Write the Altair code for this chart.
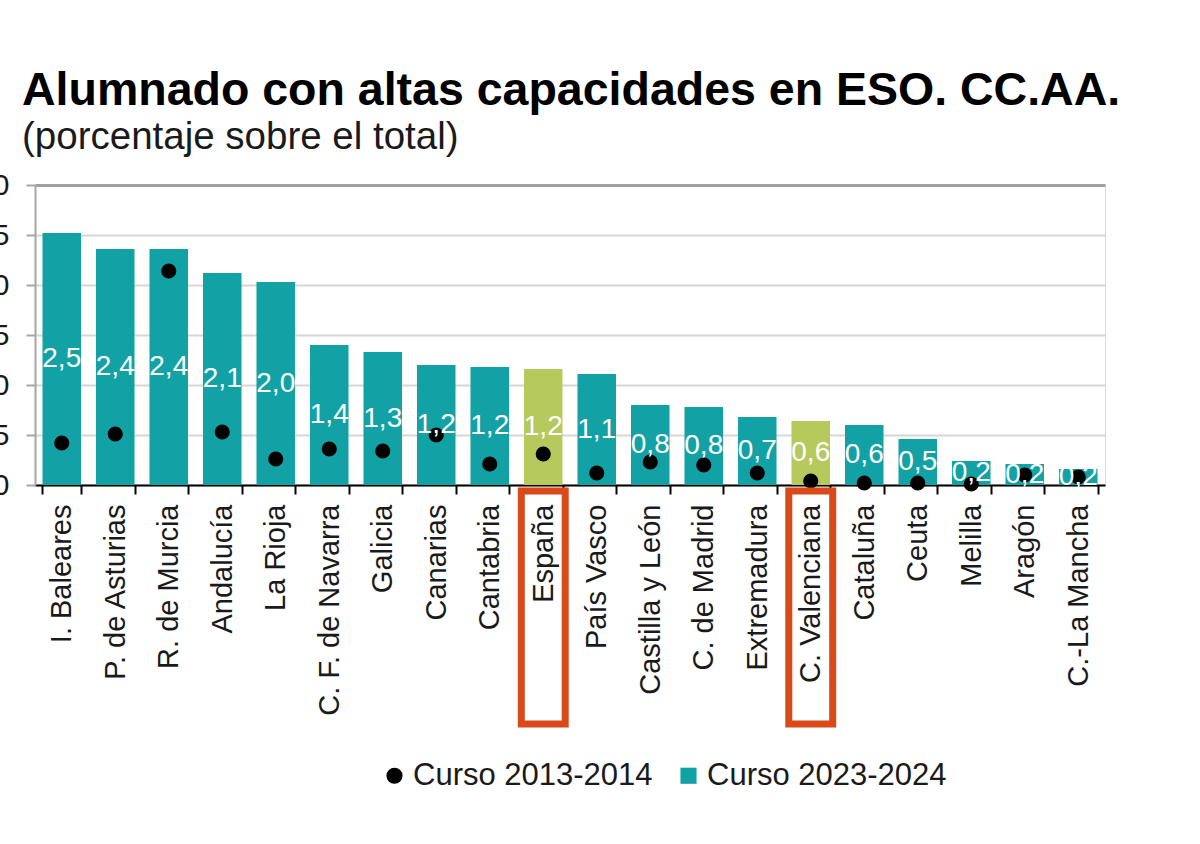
import altair as alt
import pandas as pd

# Comunidades autónomas, ordenadas de mayor a menor en el curso 2023-2024
regiones = [
    "I. Baleares", "P. de Asturias", "R. de Murcia", "Andalucía", "La Rioja",
    "C. F. de Navarra", "Galicia", "Canarias", "Cantabria", "España",
    "País Vasco", "Castilla y León", "C. de Madrid", "Extremadura",
    "C. Valenciana", "Cataluña", "Ceuta", "Melilla", "Aragón", "C.-La Mancha",
]
# Porcentaje de alumnado con altas capacidades en ESO
curso_2023_2024 = [2.52, 2.36, 2.36, 2.12, 2.03, 1.40, 1.33, 1.20, 1.18, 1.16,
                   1.11, 0.80, 0.78, 0.68, 0.64, 0.60, 0.46, 0.24, 0.21, 0.16]
curso_2013_2014 = [0.42, 0.51, 2.14, 0.53, 0.26, 0.36, 0.34, 0.50, 0.21, 0.31,
                   0.12, 0.23, 0.20, 0.12, 0.04, 0.02, 0.02, 0.01, 0.10, 0.08]
destacadas = ["España", "C. Valenciana"]
series = ["Curso 2013-2014", "Curso 2023-2024"]
ticks_y = [0, 0.5, 1, 1.5, 2, 2.5, 3]

filas = []
for serie, valores in zip(series, [curso_2013_2014, curso_2023_2024]):
    for region, valor in zip(regiones, valores):
        filas.append({"region": region, "serie": serie, "valor": valor,
                      "destacada": region in destacadas})
df = pd.DataFrame(filas)

FUENTE = "Liberation Sans"
TEAL = "#12A2A6"
VERDE = "#B6C95C"
NARANJA = "#D9491A"
GRIS_MARCO = "#A0A0A0"

escala_color = alt.Scale(domain=series, range=["#000000", TEAL])
escala_forma = alt.Scale(domain=series, range=["circle", "square"])
escala_y = alt.Scale(domain=[0, 3], nice=False)

leyenda = alt.Legend(
    title=None, orient="none", legendX=344, legendY=575, direction="horizontal",
    labelFontSize=31, labelFont=FUENTE, labelColor="#1a1a1a", symbolSize=260,
    labelOffset=3, columnPadding=20, symbolStrokeWidth=0, labelLimit=0,
)

eje_x = alt.X(
    "region:N", sort=regiones,
    scale=alt.Scale(paddingInner=0.28, paddingOuter=0.14),
    axis=alt.Axis(
        title=None, labelAngle=-90, labelFontSize=29, labelFont=FUENTE,
        labelColor="#1a1a1a", labelPadding=10, labelLimit=0, tickBand="extent",
        tickSize=9, tickColor="black", tickWidth=2, domainColor="black",
        domainWidth=2, grid=False,
    ),
)

base = alt.Chart(df)

barras = base.transform_filter(f"datum.serie == '{series[1]}'").mark_bar().encode(
    x=eje_x,
    y=alt.Y(
        "valor:Q", scale=escala_y,
        axis=alt.Axis(
            title=None, values=ticks_y,
            labelExpr="replace(format(datum.value, '.1f'), '.', ',')",
            labelFontSize=30, labelFont=FUENTE, labelColor="#1a1a1a",
            labelPadding=17, tickSize=9, tickColor="#A6A6A6", tickWidth=2,
            domainColor="#A6A6A6", domainWidth=2,
            gridColor={"condition": {"test": "datum.value == 3", "value": GRIS_MARCO},
                       "value": "#D6D6D6"},
            gridWidth={"condition": {"test": "datum.value == 3", "value": 3},
                       "value": 2},
        ),
    ),
    color=alt.condition(
        "datum.destacada", alt.value(VERDE),
        alt.Color("serie:N", scale=escala_color, legend=leyenda),
    ),
)

puntos = base.transform_filter(f"datum.serie == '{series[0]}'").mark_point(
    filled=True, size=230, opacity=1
).encode(
    x=alt.X("region:N", sort=regiones),
    y=alt.Y("valor:Q", scale=escala_y),
    color=alt.Color("serie:N", scale=escala_color, legend=leyenda),
    shape=alt.Shape("serie:N", scale=escala_forma, legend=leyenda),
)

etiquetas = base.transform_filter(f"datum.serie == '{series[1]}'").transform_calculate(
    medio="datum.valor / 2",
    texto="replace(format(datum.valor, '.1f'), '.', ',')",
).mark_text(color="white", fontSize=28, font=FUENTE, baseline="middle").encode(
    x=alt.X("region:N", sort=regiones),
    y=alt.Y("medio:Q", scale=escala_y),
    text="texto:N",
)

cajas = base.transform_filter(
    f"datum.serie == '{series[1]}' && datum.destacada"
).mark_rect(
    filled=False, stroke=NARANJA, strokeWidth=7, width=alt.RelativeBandSize(1.14)
).encode(
    x=alt.X("region:N", sort=regiones),
    y=alt.datum(-0.06, scale=escala_y),
    y2=alt.datum(-2.39),
)

chart = alt.layer(barras, puntos, etiquetas, cajas).properties(
    width=1070,
    height=300,
    autosize=alt.AutoSizeParams(type="none"),
    padding={"left": 35, "top": 185, "right": 95, "bottom": 359},
    title=alt.TitleParams(
        text="Alumnado con altas capacidades en ESO. CC.AA.",
        subtitle="(porcentaje sobre el total)",
        anchor="start", frame="group", dx=-13, offset=14,
        font=FUENTE, fontSize=46.5, fontWeight="bold", color="black",
        subtitleFont=FUENTE, subtitleFontSize=38.5, subtitleColor="#1a1a1a",
        subtitlePadding=4,
    ),
).configure_view(
    stroke=GRIS_MARCO, strokeWidth=3
).configure(background="white")

chart.save("out.html", embed_options={"renderer": "svg", "actions": False})
